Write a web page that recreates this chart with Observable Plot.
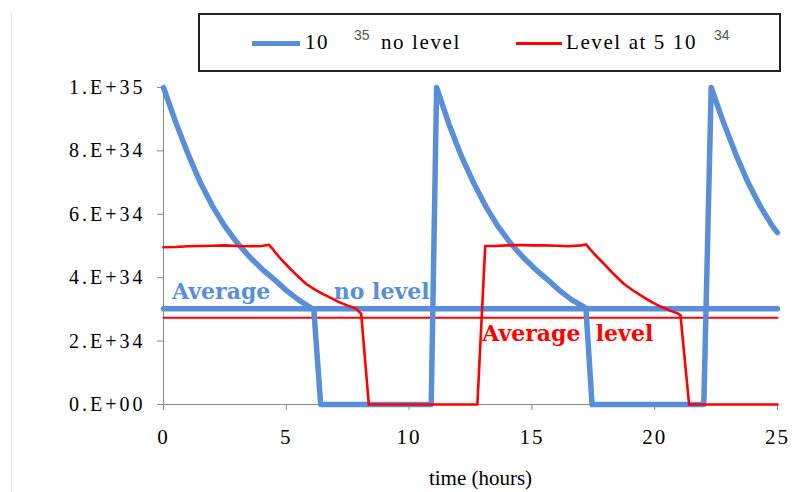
<!DOCTYPE html>
<html><head><meta charset="utf-8">
<script src="https://cdn.jsdelivr.net/npm/d3@7"></script>
<script src="https://cdn.jsdelivr.net/npm/@observablehq/plot@0.6"></script>
<style>
body{margin:0;background:#fff;width:812px;height:492px;overflow:hidden;position:relative;font-family:"Liberation Serif",serif;}
#frame{position:absolute;left:11px;top:12px;width:0;height:480px;border-left:1px solid #e6e6e6;}
#legend{position:relative;height:80px;}
#box{position:absolute;left:198px;top:13px;width:583px;height:59px;box-sizing:border-box;border:2px solid #222;}
.sw{position:absolute;}
.lt{position:absolute;font-size:21px;letter-spacing:1.6px;line-height:1;white-space:nowrap;color:#000;}
.sup{position:absolute;font-family:"Liberation Sans",sans-serif;font-size:14px;line-height:1;color:#555;}
svg g[aria-label="y-axis tick"], svg g[aria-label="x-axis tick"]{stroke:#888;}
svg g[aria-label="y-axis tick label"]{letter-spacing:3px;}
svg g[aria-label="x-axis tick label"]{letter-spacing:2px;font-size:21px;}
svg g[aria-label="y-axis"] .tick line, svg g[aria-label="x-axis"] .tick line{stroke:#888;}
svg g[aria-label="y-axis"] .tick text{letter-spacing:3px;}
</style></head>
<body>
<div id="frame"></div>
<div id="legend"></div>
<div id="chart"></div>
<script>
// ---- data (values in units of 1E34) ----
const blueName = "no level";
const redName = "Level at 5 10";
const blueSup = "35";
const redSup = "34";
const blueColor = "#5a8ed6";
const redColor = "#ff0000";

const blueTime = [0,0.5,1,1.5,2,2.5,3,3.5,4,4.5,5,5.5,6,6.12,6.4,10.9,11.12,11.62,12.12,12.62,13.12,13.62,14.12,14.62,15.12,15.62,16.12,16.62,17.12,17.2,17.45,22.0,22.3,22.8,23.3,23.8,24.3,24.8,25];
const blueValue = [10,8.9,7.9,7.0,6.25,5.62,5.1,4.66,4.28,3.95,3.6,3.3,3.05,3.0,0,0,10,8.85,7.85,7.0,6.25,5.62,5.1,4.66,4.28,3.95,3.6,3.3,3.08,3.02,0,0,10,8.9,7.9,7.0,6.25,5.62,5.42];

const redTime = [0,0.5,1,1.5,2,2.5,3,3.5,4,4.3,4.7,5.1,5.45,5.8,6.15,6.5,6.85,7.15,7.5,7.85,8.05,8.36,12.78,13.1,13.5,14,14.5,15,15.5,16,16.5,17,17.2,17.55,17.93,18.35,18.74,19.15,19.56,19.9,20.24,20.6,20.92,21.05,21.4,25];
const redValue = [4.96,4.97,4.99,5.0,5.01,5.02,5.0,4.99,5.0,5.04,4.66,4.33,4.06,3.81,3.63,3.48,3.35,3.23,3.12,3.02,2.86,0,0,5.0,5.0,5.02,5.03,5.02,5.02,5.01,4.99,5.02,5.05,4.74,4.44,4.1,3.81,3.58,3.38,3.22,3.09,2.97,2.88,2.82,0,0];

const avgNoLevel = 3.02;
const avgLevel = 2.735;
const timeSpan = [0, 25];

const xTicks = [0,5,10,15,20,25];
const yTicks = [0,2,4,6,8,10];
const yTickLabels = ["0.E+00","2.E+34","4.E+34","6.E+34","8.E+34","1.E+35"];
const xLabel = "time (hours)";

const noteText = ["Average","no level","Average","level"];
const noteX = [0.35,6.93,12.98,17.6];
const noteY = [3.56,3.56,2.21,2.21];
const noteColor = [blueColor,blueColor,redColor,redColor];

// ---- build ----
const blue = blueTime.map((t,i)=>({t, v: blueValue[i]}));
const red = redTime.map((t,i)=>({t, v: redValue[i]}));
const avgBlue = timeSpan.map(t=>({t, v: avgNoLevel}));
const avgRed = timeSpan.map(t=>({t, v: avgLevel}));
const notes = noteText.map((s,i)=>({s, x: noteX[i], y: noteY[i], c: noteColor[i]}));

// legend
const lg = document.getElementById("legend");
lg.innerHTML = `
<div id="box"></div>
<div class="sw" style="left:252px;top:41px;width:48px;height:5px;background:${blueColor}"></div>
<div class="lt" style="left:305px;top:32px">10</div>
<div class="sup" style="left:354px;top:28px">${blueSup}</div>
<div class="lt" style="left:381px;top:32px">${blueName}</div>
<div class="sw" style="left:516px;top:42px;width:46px;height:3px;background:${redColor}"></div>
<div class="lt" style="left:566px;top:32px">${redName}</div>
<div class="sup" style="left:714px;top:28px">${redSup}</div>`;

const plot = Plot.plot({
  width: 812, height: 412,
  marginLeft: 163, marginRight: 35, marginTop: 7, marginBottom: 88,
  style: {fontFamily: "Liberation Serif", fontSize: "20px", color: "#000", background: "#fff", overflow: "visible"},
  x: {domain: [0,25], ticks: xTicks, tickSize: 6, tickPadding: 19, label: null, tickFormat: d => String(d)},
  y: {domain: [0,10], ticks: yTicks, tickSize: 6, tickPadding: 12, label: null, tickFormat: d => yTickLabels[yTicks.indexOf(d)]},
  marks: [
    Plot.ruleX([0], {stroke: "#888"}),
    Plot.ruleY([0], {stroke: "#888"}),
    Plot.line(avgRed, {x: "t", y: "v", stroke: redColor, strokeWidth: 2}),
    Plot.line(avgBlue, {x: "t", y: "v", stroke: blueColor, strokeWidth: 5.5}),
    Plot.line(blue, {x: "t", y: "v", stroke: blueColor, strokeWidth: 5.5, strokeLinejoin: "round"}),
    Plot.line(red, {x: "t", y: "v", stroke: redColor, strokeWidth: 2.6}),
    Plot.text(notes, {x: "x", y: "y", text: "s", fill: "c", textAnchor: "start", fontFamily: "DejaVu Serif", fontWeight: "bold", fontSize: 22}),
    Plot.text([xLabel], {frameAnchor: "bottom", dy: 74, dx: 10, lineAnchor: "middle", fontSize: 21, fill: "#000"})
  ]
});
document.getElementById("chart").appendChild(plot);
</script>
</body></html>
